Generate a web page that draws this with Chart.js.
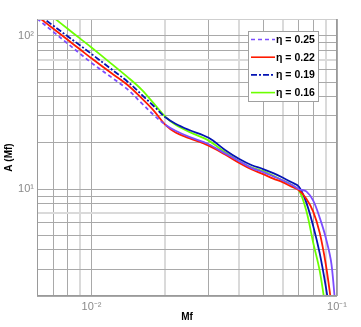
<!DOCTYPE html>
<html>
<head>
<meta charset="utf-8">
<script src="https://cdn.jsdelivr.net/npm/chart.js@4"></script>
<style>
  html, body { margin: 0; padding: 0; background: #fff; }
  #wrap { width: 361px; height: 327px; }
</style>
</head>
<body>
<div id="wrap"><canvas id="chart" width="361" height="327"></canvas></div>
<script>
// Data
const mf = [0.006, 0.007, 0.008, 0.009, 0.010, 0.012, 0.014, 0.016, 0.018, 0.020, 0.022, 0.025, 0.030, 0.035,
            0.040, 0.045, 0.050, 0.055, 0.060, 0.065, 0.070, 0.075, 0.080, 0.085, 0.090, 0.095, 0.100];
const a025 = [129.9, 106.2, 89.1, 76.4, 66.7, 54.0, 44.9, 36.4, 30.3, 26.3, 24.0, 21.9, 19.6, 17.1,
              15.2, 13.7, 12.9, 12.1, 11.4, 10.7, 9.97, 9.65, 8.39, 6.50, 4.81, 3.21, 1.21];
const a022 = [135, 111.4, 94.3, 81.5, 71.4, 57.4, 48.0, 39.2, 32.3, 26.2, 23.4, 21.5, 19.2, 16.8,
              14.8, 13.4, 12.5, 11.7, 11.1, 10.4, 9.82, 8.64, 7.11, 5.19, 3.23, 1.76, null];
const a019 = [139.6, 116.4, 99.4, 86.6, 76.3, 61.0, 50.4, 41.4, 34.6, 29.4, 26.7, 24.3, 21.6, 18.0,
              15.7, 14.3, 13.5, 12.7, 11.9, 11.1, 10.35, 8.15, 5.72, 3.81, 2.31, 1.30, null];
const a016 = [160.7, 132, 111.4, 96.0, 84.0, 66.2, 54.0, 44.6, 36.0, 29.6, 26.3, 23.6, 20.7, 17.4,
              15.2, 13.8, 13.1, 12.2, 11.4, 10.7, 9.82, 7.2, 4.46, 2.93, 1.63, null, null];
const labels = ['η = 0.25', 'η = 0.22', 'η = 0.19', 'η = 0.16'];

// Tick / grid positions
const xTicks = [0.006, 0.007, 0.008, 0.009, 0.01, 0.02, 0.03, 0.04, 0.05, 0.06, 0.07, 0.08, 0.09, 0.1];
const yTicks = [2, 3, 4, 5, 6, 7, 8, 9, 10, 20, 30, 40, 50, 60, 70, 80, 90, 100];
const xLabels = { 0.01: '10⁻²', 0.1: '10⁻¹' };
const yLabels = { 10: '10¹', 100: '10²' };

const lightX = [0.009, 0.02, 0.04, 0.06, 0.09];
const lightY = [7, 70];

const gridColor = '#a9a9a9';
const lightGrid = '#dadada';

function toPoints(arr) {
    return mf.map((x, i) => ({ x: x, y: arr[i] }));
}

function makeSet(label, arr, color, dash) {
    return {
        label: label,
        data: toPoints(arr),
        borderColor: color,
        backgroundColor: color,
        borderWidth: 1.8,
        pointRadius: 0,
        fill: false,
        spanGaps: false,
        tension: 0.35,
        legendDash: dash,
        segment: {
            borderDash: ctx => (dash.length && ctx.p0.parsed.x < 0.02) ? dash : []
        }
    };
}

// Frame + inline legend
const framePlugin = {
    id: 'frame',
    afterDraw(chart) {
        const { ctx, chartArea: a } = chart;
        ctx.save();
        ctx.lineWidth = 1;
        ctx.strokeStyle = '#cfcfcf';
        ctx.beginPath();
        ctx.moveTo(a.left, a.top + 0.5);
        ctx.lineTo(a.right, a.top + 0.5);
        ctx.stroke();
        ctx.strokeStyle = '#9a9a9a';
        ctx.beginPath();
        ctx.moveTo(a.right - 0.5, a.top);
        ctx.lineTo(a.right - 0.5, a.bottom);
        ctx.moveTo(a.left + 0.5, a.top);
        ctx.lineTo(a.left + 0.5, a.bottom);
        ctx.moveTo(a.left, a.bottom - 0.5);
        ctx.lineTo(a.right, a.bottom - 0.5);
        ctx.stroke();

        // legend box
        const bx = 248.5, by = 31.5, bw = 70, bh = 70;
        ctx.fillStyle = '#fff';
        ctx.fillRect(bx, by, bw, bh);
        ctx.strokeStyle = '#a0a0a0';
        ctx.strokeRect(bx, by, bw, bh);
        ctx.font = 'bold 10.5px "Liberation Sans", Arial, sans-serif';
        ctx.textBaseline = 'middle';
        ctx.textAlign = 'left';
        chart.data.datasets.forEach((ds, i) => {
            const y = 39.5 + i * 17.7;
            ctx.strokeStyle = ds.borderColor;
            ctx.lineWidth = 1.6;
            ctx.setLineDash(ds.legendDash);
            ctx.beginPath();
            ctx.moveTo(251, y);
            ctx.lineTo(275, y);
            ctx.stroke();
            ctx.setLineDash([]);
            ctx.fillStyle = '#000';
            ctx.fillText(ds.label, 276, y + 0.5);
        });
        ctx.restore();
    }
};

const tickFont = { family: '"Liberation Sans", Arial, sans-serif', size: 11 };

new Chart(document.getElementById('chart'), {
    type: 'line',
    data: {
        datasets: [
            makeSet(labels[0], a025, '#7c4dff', [4, 3]),
            makeSet(labels[1], a022, '#ff1a00', []),
            makeSet(labels[2], a019, '#0414b4', [6, 2, 2, 2]),
            makeSet(labels[3], a016, '#6cff00', [])
        ]
    },
    options: {
        responsive: false,
        animation: false,
        layout: { padding: { top: 19, right: 24, left: 0, bottom: 0 } },
        plugins: {
            legend: { display: false },
            tooltip: { enabled: false }
        },
        scales: {
            x: {
                type: 'logarithmic',
                min: 0.006,
                max: 0.1,
                afterBuildTicks: s => { s.ticks = xTicks.map(v => ({ value: v })); },
                afterFit: s => { s.height = 31; },
                grid: {
                    drawTicks: false,
                    color: c => lightX.includes(c.tick && c.tick.value) ? lightGrid : gridColor,
                    lineWidth: c => lightX.includes(c.tick && c.tick.value) ? 2 : 1
                },
                border: { display: false },
                ticks: {
                    autoSkip: false,
                    maxRotation: 0,
                    padding: 4,
                    color: '#8a8a8a',
                    font: tickFont,
                    callback: v => xLabels[v] || ''
                },
                title: {
                    display: true,
                    text: 'Mf',
                    color: '#000',
                    font: { family: '"Liberation Sans", Arial, sans-serif', size: 10, weight: 'bold' },
                    padding: { top: 0, bottom: 4 }
                }
            },
            y: {
                type: 'logarithmic',
                min: 2,
                max: 129,
                afterBuildTicks: s => { s.ticks = yTicks.map(v => ({ value: v })); },
                afterFit: s => { s.width = 37; },
                grid: {
                    drawTicks: false,
                    color: c => lightY.includes(c.tick && c.tick.value) ? lightGrid : gridColor,
                    lineWidth: c => lightY.includes(c.tick && c.tick.value) ? 2 : 1
                },
                border: { display: false },
                ticks: {
                    autoSkip: false,
                    padding: 3,
                    color: '#8a8a8a',
                    font: tickFont,
                    callback: v => yLabels[v] || ''
                },
                title: {
                    display: true,
                    text: 'A (Mf)',
                    color: '#000',
                    font: { family: '"Liberation Sans", Arial, sans-serif', size: 10, weight: 'bold' },
                    padding: { top: 3, bottom: 0 }
                }
            }
        }
    },
    plugins: [framePlugin]
});
</script>
</body>
</html>
